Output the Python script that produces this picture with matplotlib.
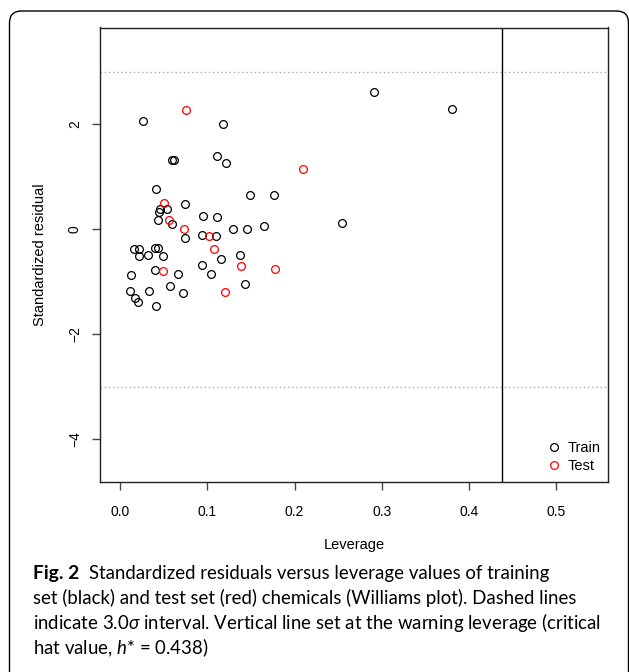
import matplotlib
matplotlib.use("Agg")
import matplotlib.pyplot as plt
from matplotlib.patches import FancyBboxPatch
from matplotlib.transforms import IdentityTransform

# ---- data ----
train_leverage = [0.2913, 0.380, 0.1768, 0.2547, 0.026, 0.118, 0.111, 0.122, 0.0592, 0.0619,
                  0.0409, 0.149, 0.0741, 0.0462, 0.0535, 0.045, 0.0439, 0.0599, 0.0947, 0.111,
                  0.0745, 0.0939, 0.1096, 0.1294, 0.145, 0.165, 0.016, 0.0218, 0.0405, 0.0435,
                  0.0214, 0.0325, 0.0497, 0.116, 0.138, 0.0405, 0.066, 0.0935, 0.1043, 0.0126,
                  0.0577, 0.1436, 0.011, 0.0332, 0.0722, 0.0176, 0.0206, 0.0412]
train_resid = [2.61, 2.29, 0.642, 0.114, 2.06, 2.00, 1.40, 1.257, 1.31, 1.31,
               0.768, 0.653, 0.482, 0.387, 0.387, 0.317, 0.165, 0.10, 0.242, 0.235,
               -0.171, -0.108, -0.14, -0.006, 0.0, 0.051, -0.387, -0.381, -0.356, -0.368,
               -0.514, -0.489, -0.514, -0.565, -0.50, -0.787, -0.845, -0.692, -0.845, -0.87,
               -1.08, -1.04, -1.17, -1.18, -1.225, -1.31, -1.38, -1.46]
test_leverage = [0.0756, 0.2096, 0.050, 0.0561, 0.073, 0.102, 0.1077, 0.1386, 0.1776, 0.0497, 0.120]
test_resid = [2.27, 1.137, 0.489, 0.165, 0.006, -0.14, -0.375, -0.705, -0.762, -0.80, -1.19]

sigma_limit = 3.0
h_star = 0.438
x_ticks = [0.0, 0.1, 0.2, 0.3, 0.4, 0.5]
x_ticklabels = ["0.0", "0.1", "0.2", "0.3", "0.4", "0.5"]
y_ticks = [-4, -2, 0, 2]
y_ticklabels = ["\u22124", "\u22122", "0", "2"]
series_labels = ["Train", "Test"]

caption_lines = [
    "Standardized residuals versus leverage values of training",
    "set (black) and test set (red) chemicals (Williams plot). Dashed lines",
    r"indicate 3.0$\sigma$ interval. Vertical line set at the warning leverage (critical",
    r"hat value, $h$* = 0.438)",
]

# ---- figure ----
W, H = 629, 672
fig = plt.figure(figsize=(W / 100, H / 100), dpi=100)
plt.rcParams['mathtext.fontset'] = 'custom'
plt.rcParams['mathtext.rm'] = 'Lato'
plt.rcParams['mathtext.it'] = 'Lato:italic'

axfont = "Liberation Sans"
fs_tick = 10
fs_lab = 10.5

l, r, t, b = 100, 608, 27.5, 481.7
ax = fig.add_axes([l / W, 1 - b / H, (r - l) / W, (b - t) / H])
ax.set_xlim(-0.0229, 0.559)
ax.set_ylim(-4.81, 3.84)

ax.axhline(sigma_limit, color="#aaaaaa", lw=1.0, ls=(0, (1, 2)))
ax.axhline(-sigma_limit, color="#aaaaaa", lw=1.0, ls=(0, (1, 2)))
ax.axvline(h_star, color="black", lw=1.0)

ax.plot(train_leverage, train_resid, ls="none", marker="o", ms=5.6, mfc="none",
        mec="black", mew=0.9, label=series_labels[0])
ax.plot(test_leverage, test_resid, ls="none", marker="o", ms=5.6, mfc="none",
        mec="red", mew=0.9, label=series_labels[1])

for s in ax.spines.values():
    s.set_color("#222222")
    s.set_linewidth(1.0)

ax.set_xticks(x_ticks)
ax.set_xticklabels(x_ticklabels, fontfamily=axfont, fontsize=fs_tick)
ax.set_yticks(y_ticks)
ax.set_yticklabels(y_ticklabels, fontfamily=axfont, fontsize=fs_tick, rotation=90, va="center")
ax.tick_params(axis="x", length=6, width=1, pad=10.5, color="#444444")
ax.tick_params(axis="y", length=6, width=1, pad=7, color="#444444")

ax.set_xlabel("Leverage", fontfamily=axfont, fontsize=fs_lab)
ax.xaxis.set_label_coords(0.5, -(538 - b) / (b - t))
ax.set_ylabel("Standardized residual", fontfamily=axfont, fontsize=fs_lab)
ax.yaxis.set_label_coords(-(l - 47) / (r - l), 0.5)

leg = ax.legend(loc="lower right", bbox_to_anchor=((601 - l) / (r - l), (b - 473) / (b - t)),
                frameon=False, borderpad=0, borderaxespad=0, handlelength=0.8,
                handletextpad=0.55, labelspacing=0.3, prop={"family": axfont, "size": fs_lab})

# ---- caption ----
capfont = "Lato"
capfs = 13.45
x0 = 33
y_base = [579, 604, 629, 654]
fig.text(x0 / W, 1 - y_base[0] / H, "Fig. 2", fontfamily=capfont, fontsize=capfs + 0.4,
         fontweight="bold", va="baseline", ha="left")
fig.canvas.draw()
renderer = fig.canvas.get_renderer()
bold_txt = fig.texts[-1]
bb = bold_txt.get_window_extent(renderer)
fig.text((bb.x1 + 10) / W, 1 - y_base[0] / H, caption_lines[0], fontfamily=capfont,
         fontsize=capfs, va="baseline", ha="left")
for i in range(1, 4):
    fig.text(x0 / W, 1 - y_base[i] / H, caption_lines[i], fontfamily=capfont,
             fontsize=capfs, va="baseline", ha="left")

# ---- rounded border (pixel coordinates, origin bottom-left) ----
border = FancyBboxPatch((9.5, -40), 619.0, H - 11 + 40,
                        boxstyle="round,pad=0,rounding_size=12", transform=IdentityTransform(),
                        fill=False, ec="black", lw=1.0, clip_on=False)
fig.patches.append(border)

fig.savefig("out.png", dpi=100)
